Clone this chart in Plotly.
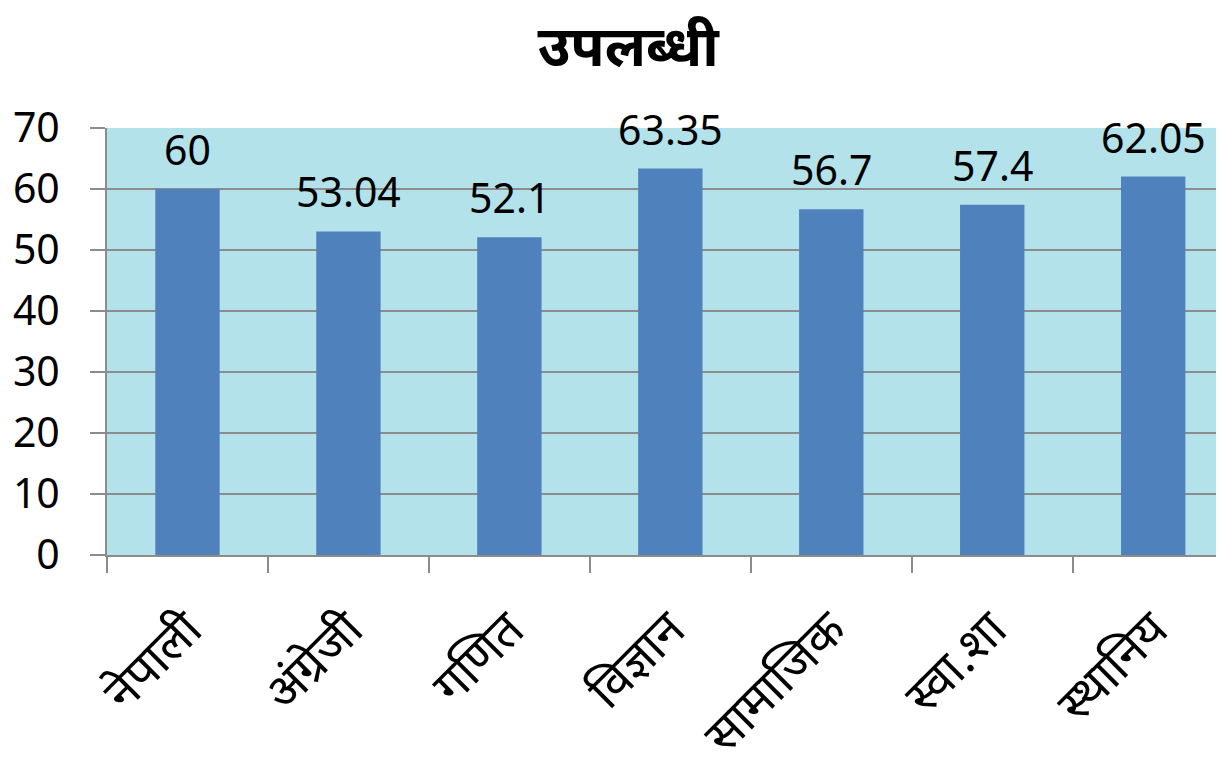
import plotly.graph_objects as go

categories = ["नेपाली", "अंग्रेजी", "गणित", "विज्ञान", "सामाजिक", "स्वा.शा", "स्थानिय"]
values = [60, 53.04, 52.1, 63.35, 56.7, 57.4, 62.05]
value_labels = ["60", "53.04", "52.1", "63.35", "56.7", "57.4", "62.05"]
y_ticks = [0, 10, 20, 30, 40, 50, 60, 70]

FONT = "Noto Sans, Liberation Sans, sans-serif"
GRID = "#8c8c8c"

fig = go.Figure()
fig.add_trace(go.Bar(
    x=categories, y=values, width=0.4,
    marker=dict(color="#4F81BD", line=dict(width=0)),
    hoverinfo="x+y",
))

for c, v, t in zip(categories, values, value_labels):
    fig.add_annotation(x=c, y=v, text=t, showarrow=False, yanchor="bottom",
                       yshift=10, font=dict(family=FONT, size=41, color="black"))

# page body has an 8px default margin, so the figure is sized to fit the window
fig.update_layout(
    width=1216, height=760,
    margin=dict(l=99, r=0, t=120, b=213),
    paper_bgcolor="white",
    plot_bgcolor="#b3e2eb",
    showlegend=False,
    title=dict(text="<b>उपलब्धी</b>", x=0.51, xanchor="center", y=0.95, yanchor="middle",
               font=dict(family=FONT, size=56, color="black")),
    font=dict(family=FONT, color="black"),
)
fig.update_xaxes(
    range=[-0.5, 6.44],
    automargin=False,
    tickangle=-45,
    tickson="boundaries",
    ticks="outside", ticklen=16, tickcolor=GRID, tickwidth=1.5,
    showline=True, linecolor=GRID, linewidth=2,
    showgrid=False,
    tickfont=dict(family=FONT, size=49, color="black"),
    ticklabelstandoff=24,
)
fig.update_yaxes(
    range=[0, 70],
    automargin=False,
    tickvals=y_ticks,
    ticks="outside", ticklen=15, tickcolor=GRID, tickwidth=1.5,
    showline=True, linecolor=GRID, linewidth=2,
    showgrid=True, gridcolor=GRID, gridwidth=1.5,
    zeroline=False,
    tickfont=dict(family=FONT, size=41, color="black"),
    ticklabelstandoff=22,
)

fig.write_html("out.html")
